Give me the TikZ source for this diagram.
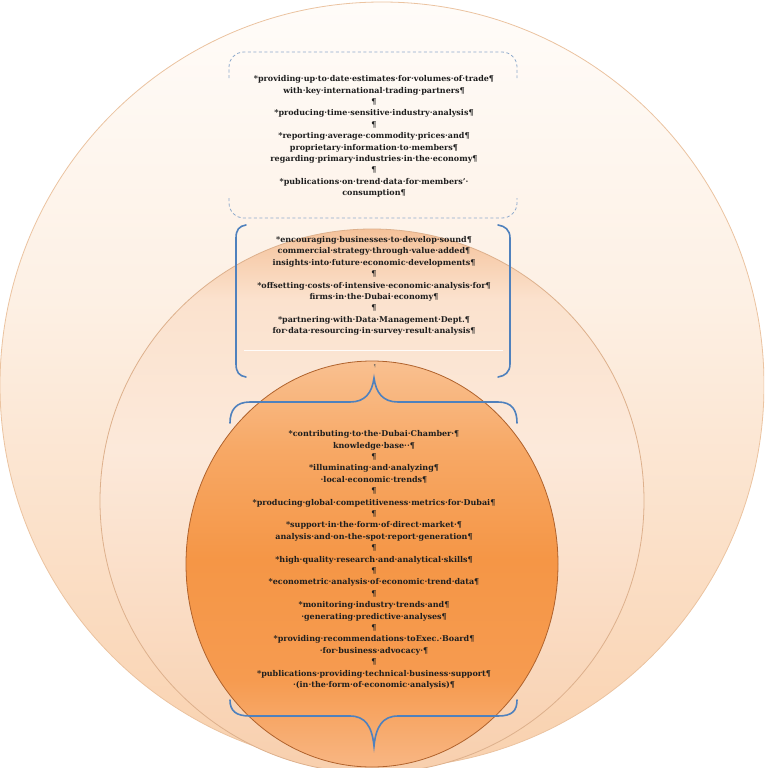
\documentclass[tikz,border=0pt]{standalone}
\usepackage{fontspec}
\setmainfont{DejaVu Serif}
\definecolor{oT}{HTML}{FFFCF9}
\definecolor{oM}{HTML}{FDF0E4}
\definecolor{oB}{HTML}{F9D1AE}
\definecolor{oE}{HTML}{EBC3A0}
\definecolor{mT}{HTML}{F5C29A}
\definecolor{mA}{HTML}{FBE2CE}
\definecolor{mM}{HTML}{FCE9DA}
\definecolor{mB}{HTML}{F8CFAD}
\definecolor{mE}{HTML}{DDB08C}
\definecolor{iT}{HTML}{F9C090}
\definecolor{iA}{HTML}{F7A865}
\definecolor{iM}{HTML}{F59646}
\definecolor{iC}{HTML}{F69B50}
\definecolor{iB}{HTML}{F8B683}
\definecolor{iE}{HTML}{B0622C}
\definecolor{bracketblue}{HTML}{4F81BD}
\definecolor{dashblue}{HTML}{8EAACC}
\definecolor{txt}{HTML}{1E1E1E}
\pgfdeclareverticalshading{outershade}{100bp}{color(0bp)=(oB); color(25bp)=(oB); color(55.5bp)=(oM); color(75bp)=(oT); color(100bp)=(oT)}
\pgfdeclareverticalshading{middleshade}{100bp}{color(0bp)=(mB); color(25bp)=(mB); color(54.7bp)=(mM); color(68.5bp)=(mA); color(75bp)=(mT); color(100bp)=(mT)}
\pgfdeclareverticalshading{innershade}{100bp}{color(0bp)=(iB); color(25bp)=(iB); color(35.7bp)=(iC); color(50.5bp)=(iM); color(64bp)=(iA); color(75bp)=(iT); color(100bp)=(iT)}
\begin{document}
\begin{tikzpicture}[x=1pt,y=-1pt,
  bodytext/.style={align=center, inner sep=0pt, text=txt,
    font=\bfseries\fontsize{8.0}{11.4}\selectfont},
  bracketline/.style={draw=bracketblue, line width=1.6pt, line cap=round},
  dashline/.style={draw=dashblue, line width=0.8pt, dash pattern=on 3pt off 2.5pt, rounded corners=15pt}]
\useasboundingbox (0,0) rectangle (764,768);
\clip (0,0) rectangle (764,768);
% circles
\shadedraw[shading=outershade, draw=oE, line width=0.8pt] (382,385) ellipse [x radius=382pt, y radius=383pt];
\shadedraw[shading=middleshade, draw=mE, line width=0.8pt] (372,501) ellipse [x radius=272pt, y radius=272pt];
\shadedraw[shading=innershade, draw=iE, line width=0.8pt] (372,564) ellipse [x radius=186pt, y radius=203pt];
% dashed box (top and bottom parts)
\draw[dashline] (229,78) -- (229,52) -- (517,52) -- (517,78);
\draw[dashline] (229,198) -- (229,218) -- (517,218) -- (517,198);
% bracket pair
\draw[bracketline] (246,225) .. controls (239,226) and (236,230) .. (236,238) -- (236,364) .. controls (236,372) and (239,376) .. (246,377);
\draw[bracketline] (498,225) .. controls (505,226) and (510,230) .. (510,238) -- (510,364) .. controls (510,372) and (505,376) .. (498,377);
% white separator line
\draw[white, line width=0.7pt, opacity=0.9] (244,350) -- (503,350);
\node[inner sep=0pt, text=gray!70!black, font=\fontsize{4}{4}\selectfont] (mark) at (375,366) {¶};
% top brace (pointing up)
\draw[bracketline] (230,423) .. controls (230,410) and (236,402) .. (250,402) -- (350,402) .. controls (365,402) and (372,393) .. (374,378) .. controls (376,393) and (383,402) .. (398,402) -- (498,402) .. controls (512,402) and (517,410) .. (517,423);
% bottom brace (pointing down)
\draw[bracketline] (230,700) .. controls (230,711) and (236,716) .. (250,716) -- (350,716) .. controls (365,716) and (372,726) .. (374,746) .. controls (376,726) and (383,716) .. (398,716) -- (498,716) .. controls (512,716) and (517,711) .. (517,700);
% texts
\node[bodytext] (t1) at (374,136.5) {*providing·up·to·date·estimates·for·volumes·of·trade¶\\
with·key·international·trading·partners¶\\
¶\\
*producing·time·sensitive·industry·analysis¶\\
¶\\
*reporting·average·commodity·prices·and¶\\
proprietary·information·to·members¶\\
regarding·primary·industries·in·the·economy¶\\
¶\\
*publications·on·trend·data·for·members'·\\
consumption¶};
\node[bodytext] (t2) at (374,286) {*encouraging·businesses·to·develop·sound¶\\
commercial·strategy·through·value·added¶\\
insights·into·future·economic·developments¶\\
¶\\
*offsetting·costs·of·intensive·economic·analysis·for¶\\
firms·in·the·Dubai·economy¶\\
¶\\
*partnering·with·Data·Management·Dept.¶\\
for·data·resourcing·in·survey·result·analysis¶};
\node[bodytext] (t3) at (374,560) {*contributing·to·the·Dubai·Chamber·¶\\
knowledge·base··¶\\
¶\\
*illuminating·and·analyzing¶\\
·local·economic·trends¶\\
¶\\
*producing·global·competitiveness·metrics·for·Dubai¶\\
¶\\
*support·in·the·form·of·direct·market·¶\\
analysis·and·on-the-spot·report·generation¶\\
¶\\
*high·quality·research·and·analytical·skills¶\\
¶\\
*econometric·analysis·of·economic·trend·data¶\\
¶\\
*monitoring·industry·trends·and¶\\
·generating·predictive·analyses¶\\
¶\\
*providing·recommendations·toExec.·Board¶\\
·for·business·advocacy·¶\\
¶\\
*publications·providing·technical·business·support¶\\
·(in·the·form·of·economic·analysis)¶};
\end{tikzpicture}
\end{document}
